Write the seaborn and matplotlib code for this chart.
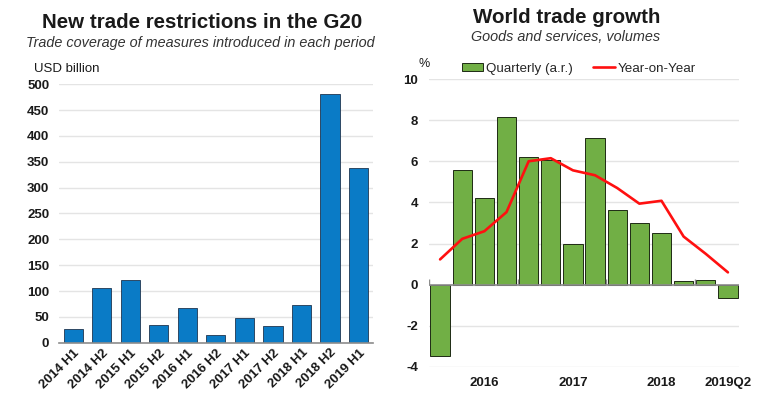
import matplotlib

matplotlib.use("Agg")

import matplotlib.pyplot as plt
import numpy as np
import seaborn as sns
from matplotlib.font_manager import fontManager
from matplotlib.lines import Line2D
from matplotlib.patches import Patch


# left panel: G20 trade restrictions, USD billion
periods = ["2014 H1", "2014 H2", "2015 H1", "2015 H2", "2016 H1", "2016 H2",
           "2017 H1", "2017 H2", "2018 H1", "2018 H2", "2019 H1"]
coverage = [26, 105, 121, 34, 68, 15, 47, 33, 73, 481, 337]

# right panel: world trade growth, %
quarters = ["2016Q1", "2016Q2", "2016Q3", "2016Q4", "2017Q1", "2017Q2", "2017Q3",
            "2017Q4", "2018Q1", "2018Q2", "2018Q3", "2018Q4", "2019Q1", "2019Q2"]
quarterly_ar = [-3.45, 5.6, 4.2, 8.13, 6.22, 6.08, 1.97, 7.12, 3.63, 3.0, 2.52, 0.16, 0.23, -0.65]
year_on_year = [1.23, 2.23, 2.6, 3.53, 6.0, 6.15, 5.56, 5.32, 4.7, 3.94, 4.08, 2.34, 1.5, 0.6]
quarter_labels = {"2016Q3": "2016", "2017Q3": "2017", "2018Q3": "2018", "2019Q2": "2019Q2"}

BLUE = "#0A7BC6"
GREEN = "#71AF45"
GRID = "#E4E4E4"
AXIS = "#8C8C8C"
TEXT = "#1A1A1A"


def _font_list() -> list[str]:
    names = {f.name for f in fontManager.ttflist}
    wanted = ["Liberation Sans Narrow", "Liberation Sans", "DejaVu Sans"]
    return [n for n in wanted if n in names] or ["DejaVu Sans"]


def draw_restrictions(ax) -> None:
    sns.barplot(x=periods, y=coverage, color=BLUE, width=0.67, edgecolor="#1F3550",
                linewidth=0.6, saturation=1, ax=ax)
    ax.set_ylim(0, 500)
    ax.set_xlim(-0.5, len(periods) - 0.5)
    ax.set_yticks(np.arange(0, 501, 50))
    ax.yaxis.grid(True, color=GRID, linewidth=1.0)
    ax.set_axisbelow(True)
    ax.tick_params(axis="y", length=0, pad=7, labelsize=9.5, labelcolor=TEXT)
    ax.tick_params(axis="x", which="major", length=0, pad=3, labelsize=9.5, labelcolor=TEXT)
    for label in ax.get_xticklabels():
        label.set_rotation(45)
        label.set_ha("right")
        label.set_rotation_mode("anchor")
        label.set_fontweight("bold")
    for label in ax.get_yticklabels():
        label.set_fontweight("bold")
    # year boundary ticks before each H1
    bounds = [i - 0.5 for i, p in enumerate(periods) if p.endswith("H1")]
    ax.set_xticks(bounds, minor=True)
    ax.tick_params(axis="x", which="minor", direction="in", length=4.5, color=AXIS, width=1)
    for side in ["top", "right", "left"]:
        ax.spines[side].set_visible(False)
    ax.spines["bottom"].set_color(AXIS)
    ax.spines["bottom"].set_linewidth(1.2)
    ax.set_xlabel("")
    ax.set_ylabel("")


def draw_trade_growth(ax) -> None:
    sns.barplot(x=quarters, y=quarterly_ar, color=GREEN, width=0.87, edgecolor="#1E2A14",
                linewidth=0.7, saturation=1, ax=ax)
    sns.lineplot(x=np.arange(len(quarters)), y=year_on_year, color="#FF1010", linewidth=1.9, ax=ax)
    ax.set_ylim(-4, 10)
    ax.set_xlim(-0.5, len(quarters) - 0.5)
    ax.set_yticks(np.arange(-4, 11, 2))
    ax.yaxis.grid(True, color=GRID, linewidth=1.0)
    ax.set_axisbelow(True)
    ax.axhline(0, color=AXIS, linewidth=1.2, zorder=1.5)
    # year boundary ticks sitting on the zero line
    bounds = [i - 0.5 for i, q in enumerate(quarters) if q.endswith("Q1")]
    ax.vlines(bounds, 0, 0.3, color=AXIS, linewidth=1, zorder=1.5)
    ticks = [quarters.index(q) for q in quarter_labels]
    ax.set_xticks(ticks)
    ax.set_xticklabels(list(quarter_labels.values()), fontweight="bold")
    ax.tick_params(axis="x", length=0, pad=7, labelsize=9.5, labelcolor=TEXT)
    ax.tick_params(axis="y", length=0, pad=8, labelsize=9.5, labelcolor=TEXT)
    for label in ax.get_yticklabels():
        label.set_fontweight("bold")
    for side in ["top", "right", "left", "bottom"]:
        ax.spines[side].set_visible(False)
    ax.set_xlabel("")
    ax.set_ylabel("")


def main() -> None:
    sns.set_theme(style="white")
    fonts = _font_list()
    plt.rcParams["font.family"] = fonts
    plt.rcParams["axes.unicode_minus"] = False

    fig = plt.figure(figsize=(7.73, 3.97), dpi=100)
    ax_left = fig.add_axes([0.0763, 0.1368, 0.406, 0.651])
    ax_right = fig.add_axes([0.555, 0.0756, 0.401, 0.7254])

    draw_restrictions(ax_left)
    draw_trade_growth(ax_right)

    fig.text(0.261, 0.943, "New trade restrictions in the G20", ha="center", va="center",
             fontsize=14.8, fontweight="bold", color=TEXT)
    fig.text(0.259, 0.892, "Trade coverage of measures introduced in each period", ha="center",
             va="center", fontsize=10.4, style="italic", color="#333333")
    fig.text(0.044, 0.826, "USD billion", ha="left", va="center", fontsize=9.5, color=TEXT)

    fig.text(0.733, 0.956, "World trade growth", ha="center", va="center",
             fontsize=14.8, fontweight="bold", color=TEXT)
    fig.text(0.731, 0.906, "Goods and services, volumes", ha="center", va="center",
             fontsize=10.4, style="italic", color="#333333")
    fig.text(0.541, 0.838, "%", ha="left", va="center", fontsize=9, color=TEXT)

    handles = [
        Patch(facecolor=GREEN, edgecolor="#1E2A14", linewidth=0.7, label="Quarterly (a.r.)"),
        Line2D([0], [0], color="#FF1010", linewidth=1.9, label="Year-on-Year"),
    ]
    fig.legend(handles=handles, loc="center", bbox_to_anchor=(0.749, 0.827), ncol=2,
               frameon=False, fontsize=9.6, handlelength=1.6, handleheight=0.55,
               handletextpad=0.25, columnspacing=1.5)

    fig.savefig("out.png", dpi=100)
    plt.close(fig)


if __name__ == "__main__":
    main()
